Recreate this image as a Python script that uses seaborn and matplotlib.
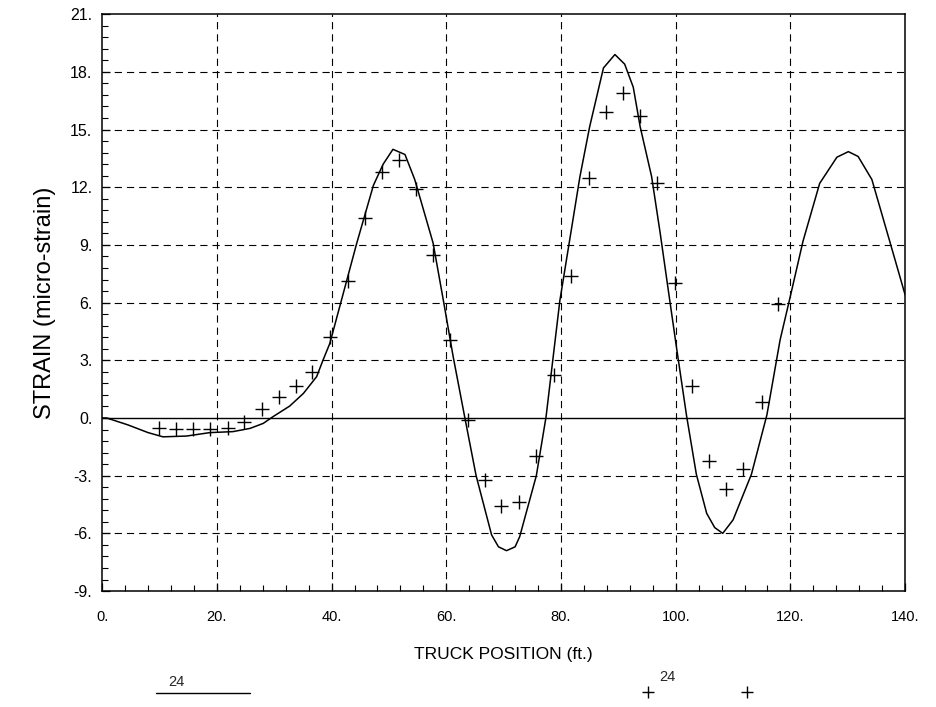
import numpy as np
import pandas as pd
import matplotlib
matplotlib.use("Agg")
import matplotlib.pyplot as plt
from matplotlib.lines import Line2D
from matplotlib.ticker import MultipleLocator, FuncFormatter
import seaborn as sns

# ---- data ----
theory_x = [0, 0.8, 4.5, 8.0, 10.6, 14.7, 18.8, 22.8, 25.8, 28.1, 29.8, 32.7, 35.1,
            37.4, 38.5, 39.7, 41.7, 44.4, 47.3, 49.0, 50.7, 52.8, 54.5, 57.7, 59.5,
            61.2, 63.2, 65.2, 67.9, 69.1, 70.5, 72.0, 72.8, 75.7, 77.4, 79.8, 83.3,
            85.0, 87.4, 89.4, 91.1, 92.6, 93.8, 95.8, 97.3, 98.7, 100.2, 101.9, 103.6,
            105.4, 106.8, 108.2, 110.0, 113.2, 115.9, 118.2, 119.9, 122.2, 125.1,
            128.1, 130.1, 131.8, 134.2, 137.3, 140.0]
theory_y = [0, 0, -0.36, -0.76, -0.98, -0.94, -0.76, -0.71, -0.54, -0.28, 0.07, 0.62,
            1.28, 2.15, 3.0, 3.88, 6.1, 9.1, 12.1, 13.2, 13.97, 13.7, 12.4, 9.1, 6.1,
            3.19, 0.07, -3.0, -6.08, -6.7, -6.9, -6.7, -6.17, -3.0, 0.07, 6.1, 12.55,
            15.15, 18.2, 18.9, 18.4, 17.2, 15.15, 12.55, 9.6, 6.66, 3.54, 0.1, -2.93,
            -4.96, -5.7, -6.0, -5.3, -2.93, 0.16, 4.06, 6.22, 9.2, 12.2, 13.56, 13.85,
            13.6, 12.4, 9.2, 6.4]

measured_x = [9.9, 12.9, 15.9, 18.8, 21.9, 24.8, 27.9, 30.9, 33.8, 36.6, 39.7, 42.8,
              45.8, 48.8, 51.8, 54.7, 57.6, 60.7, 63.7, 66.7, 69.6, 72.7, 75.7, 78.7,
              81.8, 84.9, 87.9, 90.8, 93.8, 96.7, 99.9, 102.9, 105.8, 108.8, 111.8,
              115.0, 117.9]
measured_y = [-0.54, -0.59, -0.59, -0.59, -0.5, -0.19, 0.45, 1.08, 1.66, 2.41, 4.2, 7.1,
              10.4, 12.8, 13.4, 11.9, 8.5, 4.05, -0.12, -3.25, -4.6, -4.35, -1.98, 2.24,
              7.4, 12.5, 15.9, 16.9, 15.7, 12.2, 7.0, 1.66, -2.24, -3.67, -2.64, 0.83,
              5.93]

x_ticks = [0, 20, 40, 60, 80, 100, 120, 140]
y_ticks = [-9, -6, -3, 0, 3, 6, 9, 12, 15, 18, 21]
x_label = "TRUCK POSITION (ft.)"
y_label = "STRAIN (micro-strain)"
legend_line_label = "24"
legend_marker_label = "24"

theory = pd.DataFrame({"x": theory_x, "y": theory_y})
measured = pd.DataFrame({"x": measured_x, "y": measured_y})

sns.set_theme(style="white")
plt.rcParams["font.family"] = ["Liberation Sans", "DejaVu Sans"]

fig = plt.figure(figsize=(9.37, 7.07), dpi=100)
ax = fig.add_axes([0.109, 0.164, 0.857, 0.816])

grid_kw = dict(color="black", lw=0.8, dashes=(6.5, 4.5), zorder=1)
for xv in x_ticks[1:-1]:
    ax.axvline(xv, **grid_kw)
for yv in y_ticks[1:-1]:
    if yv != 0:
        ax.axhline(yv, **grid_kw)
ax.axhline(0, color="black", lw=1.0, zorder=2)

sns.lineplot(data=theory, x="x", y="y", ax=ax, color="black", lw=1.1,
             sort=False, estimator=None, zorder=3)
sns.scatterplot(data=measured, x="x", y="y", ax=ax, marker="+", s=110,
                color="black", linewidth=1.0, zorder=4)

ax.set_xlim(0, 140)
ax.set_ylim(-9, 21)
ax.xaxis.set_major_locator(MultipleLocator(20))
ax.xaxis.set_minor_locator(MultipleLocator(4))
ax.yaxis.set_major_locator(MultipleLocator(3))
ax.yaxis.set_minor_locator(MultipleLocator(0.6))
fmt = FuncFormatter(lambda v, p: f"{int(round(v))}.")
ax.xaxis.set_major_formatter(fmt)
ax.yaxis.set_major_formatter(fmt)
ax.tick_params(which="both", direction="in", colors="black",
               bottom=True, left=True, top=False, right=False)
ax.tick_params(which="major", length=6, width=0.9)
ax.tick_params(which="minor", length=4, width=0.8)
ax.tick_params(axis="x", pad=14, labelsize=10.5)
ax.tick_params(axis="y", pad=7, labelsize=11.5)
for s in ax.spines.values():
    s.set_color("black")
    s.set_linewidth(1.1)

ax.set_xlabel(x_label, fontsize=12.5, labelpad=16, color="black")
ax.set_ylabel(y_label, fontsize=17, labelpad=10, color="black")

# legend-style annotations below the plot
fig.text(168 / 937, 1 - 682 / 707, legend_line_label, fontsize=10.5, ha="left", va="center")
fig.add_artist(Line2D([156 / 937, 250 / 937], [1 - 693 / 707, 1 - 693 / 707],
                      color="black", lw=1.0, transform=fig.transFigure))
fig.add_artist(Line2D([648 / 937], [1 - 692 / 707], marker="+", markersize=9,
                      color="black", mew=1.0, transform=fig.transFigure))
fig.text(659 / 937, 1 - 677 / 707, legend_marker_label, fontsize=10.5, ha="left", va="center")
fig.add_artist(Line2D([747 / 937], [1 - 692 / 707], marker="+", markersize=9,
                      color="black", mew=1.0, transform=fig.transFigure))

fig.savefig("out.png", dpi=100, facecolor="white")
